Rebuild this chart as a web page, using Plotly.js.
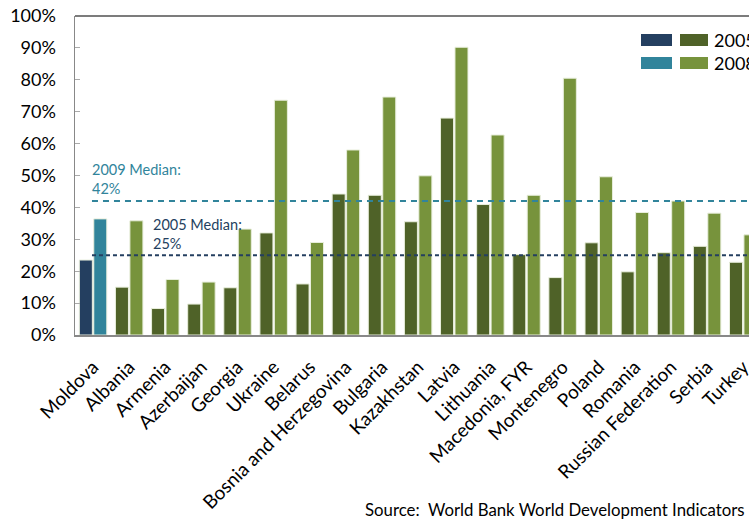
<!DOCTYPE html>
<html>
<head>
<meta charset="utf-8">
<script src="https://cdn.plot.ly/plotly-3.0.1.min.js"></script>
<style>html,body{margin:0;padding:0;background:#fff;}#chart{width:749px;height:519px;}</style>
</head>
<body>
<div id="chart"></div>
<script>
var countries = ["Moldova","Albania","Armenia","Azerbaijan","Georgia","Ukraine","Belarus","Bosnia and Herzegovina","Bulgaria","Kazakhstan","Latvia","Lithuania","Macedonia, FYR","Montenegro","Poland","Romania","Russian Federation","Serbia","Turkey"];
var values2005 = [23.5,15.0,8.3,9.7,14.8,32.0,16.0,44.2,43.8,35.5,68.0,40.9,25.2,18.0,28.9,19.8,25.8,27.8,22.8];
var values2008 = [36.4,35.8,17.4,16.6,33.2,73.6,29.0,58.0,74.6,49.9,90.2,62.7,43.8,80.5,49.6,38.4,42.0,38.2,31.4];
var median2005 = 25;
var median2009 = 42;
var yTicks = [0,10,20,30,40,50,60,70,80,90,100];
var yTickLabels = yTicks.map(function(v){return v+"%";});

var colors2005 = countries.map(function(c,i){return i===0 ? "#243F60" : "#4F6228";});
var colors2008 = countries.map(function(c,i){return i===0 ? "#31849B" : "#77933C";});

var traces = [
  {type:"bar", name:"2005", x:countries, y:values2005, marker:{color:colors2005, line:{color:"#e8eedc", width:1}}},
  {type:"bar", name:"2008", x:countries, y:values2008, marker:{color:colors2008, line:{color:"#e8eedc", width:1}}}
];

var L=75, R=749, T=16, B=335;
function px(x){return (x-L)/(R-L);}
function py(y){return (B-y)/(B-T);}

var font = "Lato, 'Open Sans', sans-serif";

var layout = {
  width:749, height:519,
  margin:{l:L, r:0, t:T, b:519-B, pad:0},
  paper_bgcolor:"#fff", plot_bgcolor:"#fff",
  showlegend:false,
  barmode:"group", bargap:0.2, bargroupgap:0.1,
  font:{family:font, color:"#000"},
  xaxis:{
    type:"category", range:[-0.5, 18.16], tickangle:-45,
    tickfont:{size:19, family:font, color:"#000"},
    ticklabelstandoff:12,
    showline:true, linecolor:"#888", linewidth:1.5, ticks:"", showgrid:false, fixedrange:true
  },
  yaxis:{
    range:[0,100], tickvals:yTicks, ticktext:yTickLabels,
    tickfont:{size:18, family:font, color:"#000"},
    ticklabelstandoff:14,
    showline:true, linecolor:"#888", linewidth:1.5, mirror:false,
    ticks:"inside", ticklen:5, tickcolor:"#aaa", showgrid:false, zeroline:false, fixedrange:true
  },
  shapes:[
    {type:"line", xref:"paper", yref:"paper", x0:0, x1:1, y0:1, y1:1, line:{color:"#505050", width:1.5}},
    {type:"line", xref:"x", yref:"y", x0:-0.03, x1:19, y0:median2009, y1:median2009, line:{color:"#31849B", width:2, dash:"6px,5px"}},
    {type:"line", xref:"x", yref:"y", x0:-0.03, x1:19, y0:median2005, y1:median2005, line:{color:"#243F60", width:2, dash:"4px,3px"}},
    {type:"rect", xref:"paper", yref:"paper", x0:px(641), x1:px(672), y0:py(46), y1:py(34), fillcolor:"#243F60", line:{width:0}},
    {type:"rect", xref:"paper", yref:"paper", x0:px(680), x1:px(708), y0:py(46), y1:py(34), fillcolor:"#4F6228", line:{width:0}},
    {type:"rect", xref:"paper", yref:"paper", x0:px(641), x1:px(672), y0:py(69), y1:py(57), fillcolor:"#31849B", line:{width:0}},
    {type:"rect", xref:"paper", yref:"paper", x0:px(680), x1:px(708), y0:py(69), y1:py(57), fillcolor:"#77933C", line:{width:0}}
  ],
  annotations:[
    {xref:"paper", yref:"paper", x:px(712), y:py(40), xanchor:"left", yanchor:"middle", text:"2005", showarrow:false, font:{size:18, color:"#000", family:font}},
    {xref:"paper", yref:"paper", x:px(712), y:py(63), xanchor:"left", yanchor:"middle", text:"2008", showarrow:false, font:{size:18, color:"#000", family:font}},
    {xref:"paper", yref:"paper", x:px(90), y:py(159), xanchor:"left", yanchor:"top", align:"left", text:"2009 Median:<br>"+median2009+"%", showarrow:false, font:{size:14.5, color:"#31849B", family:font}},
    {xref:"paper", yref:"paper", x:px(151), y:py(214), xanchor:"left", yanchor:"top", align:"left", text:"2005 Median:<br>"+median2005+"%", showarrow:false, font:{size:14.5, color:"#243F60", family:font}},
    {xref:"paper", yref:"paper", x:px(363), y:py(510), xanchor:"left", yanchor:"middle", text:"Source:  World Bank World Development Indicators", showarrow:false, font:{size:16.8, color:"#000", family:font}}
  ]
};

Plotly.newPlot("chart", traces, layout, {staticPlot:true, displayModeBar:false});
</script>
</body>
</html>
